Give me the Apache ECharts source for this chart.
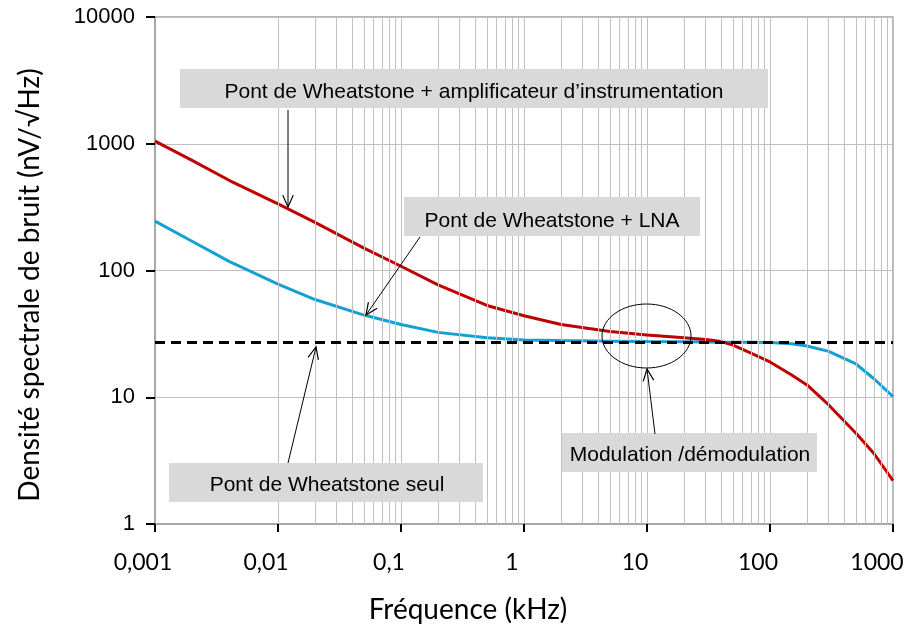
<!DOCTYPE html>
<html><head><meta charset="utf-8">
<script src="https://cdn.jsdelivr.net/npm/echarts@6/dist/echarts.min.js"></script>
<style>html,body{margin:0;padding:0;background:#fff}#c{width:906px;height:627px}</style>
</head><body><div id="c"></div>
<script>
// ---- data (frequency in kHz, noise density in nV/sqrt(Hz)) ----
const freq      = [0.001, 0.002, 0.004, 0.01, 0.02, 0.05, 0.1, 0.2, 0.5, 1, 2, 5, 10, 20, 30, 40, 50, 70, 100, 150, 200, 300, 500, 700, 1000];
const ampNoise  = [1050, 740, 515, 335, 240, 150, 108, 77, 53, 44, 37.5, 33, 31, 29.5, 28.5, 27.5, 25.8, 22.3, 19, 15, 12.5, 8.7, 5.2, 3.6, 2.2];
const lnaNoise  = [245, 170, 118, 78, 59, 44.5, 37.5, 32.5, 29.5, 28.3, 28, 27.7, 27.5, 27.4, 27.3, 27.2, 27.2, 27.1, 27, 26.4, 25.4, 23, 18.3, 14, 10.1];
const bridgeFreq  = [0.001, 1000];
const bridgeNoise = [27, 27];
const xTickLabels = ['0,001', '0,01', '0,1', '1', '10', '100', '1000'];
const yTickLabels = ['1', '10', '100', '1000', '10000'];
const xTitle = 'Fréquence (kHz)';
const yTitle = 'Densité spectrale de bruit (nV/√Hz)';
const labelAmp = 'Pont de Wheatstone + amplificateur d’instrumentation';
const labelLna = 'Pont de Wheatstone + LNA';
const labelBridge = 'Pont de Wheatstone seul';
const labelMod = 'Modulation /démodulation';

// minor vertical grid positions (2..9 x each decade)
const minorGrid = [];
for (let e = -3; e < 3; e++) for (let m = 2; m <= 9; m++) minorGrid.push(m * Math.pow(10, e));

const chart = echarts.init(document.getElementById('c'), null, {renderer: 'canvas'});

const boxFont = '21px "Liberation Sans", Arial, sans-serif';
const titleFont = '28px Lato, "Open Sans", sans-serif';

function arrow(x1, y1, x2, y2) {
  const a = Math.atan2(y2 - y1, x2 - x1);
  const L = 13, w = 0.42;
  const p1 = [x2 - L * Math.cos(a - w), y2 - L * Math.sin(a - w)];
  const p2 = [x2 - L * Math.cos(a + w), y2 - L * Math.sin(a + w)];
  return [
    {type: 'line', z: 20, shape: {x1, y1, x2, y2}, style: {stroke: '#000', lineWidth: 1}},
    {type: 'polyline', z: 20, shape: {points: [p1, [x2, y2], p2]}, style: {stroke: '#000', fill: null, lineWidth: 1.2}}
  ];
}
function box(x, y, w, h, text, tx, ty) {
  return [
    {type: 'rect', z: 15, shape: {x, y, width: w, height: h}, style: {fill: '#d9d9d9'}},
    {type: 'text', z: 16, style: {text, x: tx, y: ty, font: boxFont, fill: '#000', align: 'center', verticalAlign: 'middle', textAlign: 'center', textVerticalAlign: 'middle'}}
  ];
}

const graphics = [].concat(
  box(180, 69, 588, 39, labelAmp, 474, 92),
  arrow(288, 110, 288, 207),
  box(404, 197, 296, 39, labelLna, 552, 221),
  arrow(420, 237, 366, 315),
  box(169, 463, 314, 39, labelBridge, 327, 485),
  arrow(288, 463, 316, 347),
  box(562, 433, 255, 39, labelMod, 690, 455),
  arrow(655, 434, 647, 369),
  [{type: 'ellipse', z: 20, shape: {cx: 646.5, cy: 336, rx: 44.5, ry: 32}, style: {fill: null, stroke: '#000', lineWidth: 1}}],
  [{type: 'text', z: 16, style: {text: xTitle, x: 468, y: 610, font: titleFont, fill: '#000', align: 'center', verticalAlign: 'middle', textAlign: 'center', textVerticalAlign: 'middle'}}],
  [{type: 'text', z: 16, x: 30, y: 285, rotation: Math.PI / 2, style: {text: yTitle, x: 0, y: 0, font: titleFont, fill: '#000', align: 'center', verticalAlign: 'middle', textAlign: 'center', textVerticalAlign: 'middle'}}]
);

const xLabelFont = 'Lato, "Open Sans", sans-serif';

const option = {
  animation: false,
  backgroundColor: '#fff',
  grid: {left: 155, right: 13, top: 17, bottom: 103, show: true, borderColor: '#a0a0a0', borderWidth: 1.5, containLabel: false, outerBoundsMode: 'none'},
  xAxis: {
    type: 'log', logBase: 10, min: 0.001, max: 1000, splitNumber: 6,
    axisLine: {show: true, lineStyle: {color: '#a0a0a0', width: 1.5}},
    axisTick: {show: true, inside: false, length: 8, lineStyle: {color: '#000', width: 2}},
    axisLabel: {
      margin: 27, color: '#000',
      formatter: v => {
        const i = Math.round(Math.log10(v)) + 3;
        return (i === xTickLabels.length - 1 ? '{b|' : '{a|') + xTickLabels[i] + '}';
      },
      rich: {
        a: {fontFamily: xLabelFont, fontSize: 23, color: '#000', padding: [0, 24, 0, 0]},
        b: {fontFamily: xLabelFont, fontSize: 23, color: '#000', padding: [0, 32, 0, 0]}
      }
    },
    splitLine: {show: true, lineStyle: {color: '#c0c0c0', width: 1}}
  },
  yAxis: {
    type: 'log', logBase: 10, min: 1, max: 10000, splitNumber: 4,
    axisLine: {show: true, lineStyle: {color: '#a0a0a0', width: 1.5}},
    axisTick: {show: true, inside: false, length: 9, lineStyle: {color: '#000', width: 2}},
    axisLabel: {
      margin: 20, color: '#000', fontFamily: '"Liberation Sans", Arial, sans-serif', fontSize: 22,
      formatter: v => yTickLabels[Math.round(Math.log10(v))]
    },
    splitLine: {show: true, lineStyle: {color: '#c0c0c0', width: 1}}
  },
  series: [
    {name: 'grid', type: 'line', data: [], z: 1, silent: true,
      markLine: {silent: true, symbol: 'none', label: {show: false}, animation: false,
        lineStyle: {color: '#c0c0c0', width: 1, type: 'solid'},
        emphasis: {disabled: true},
        data: minorGrid.map(v => ({xAxis: v}))}},
    {name: 'LNA', type: 'line', showSymbol: false, z: 3, data: freq.map((f, i) => [f, lnaNoise[i]]), lineStyle: {color: '#14a0d2', width: 3}},
    {name: 'Amp', type: 'line', showSymbol: false, z: 4, data: freq.map((f, i) => [f, ampNoise[i]]), lineStyle: {color: '#c00000', width: 3}},
    {name: 'Bridge', type: 'line', showSymbol: false, z: 5, data: bridgeFreq.map((f, i) => [f, bridgeNoise[i]]), lineStyle: {color: '#000', width: 3, type: [10, 6]}}
  ],
  graphic: graphics
};
chart.setOption(option);
</script>
</body></html>
